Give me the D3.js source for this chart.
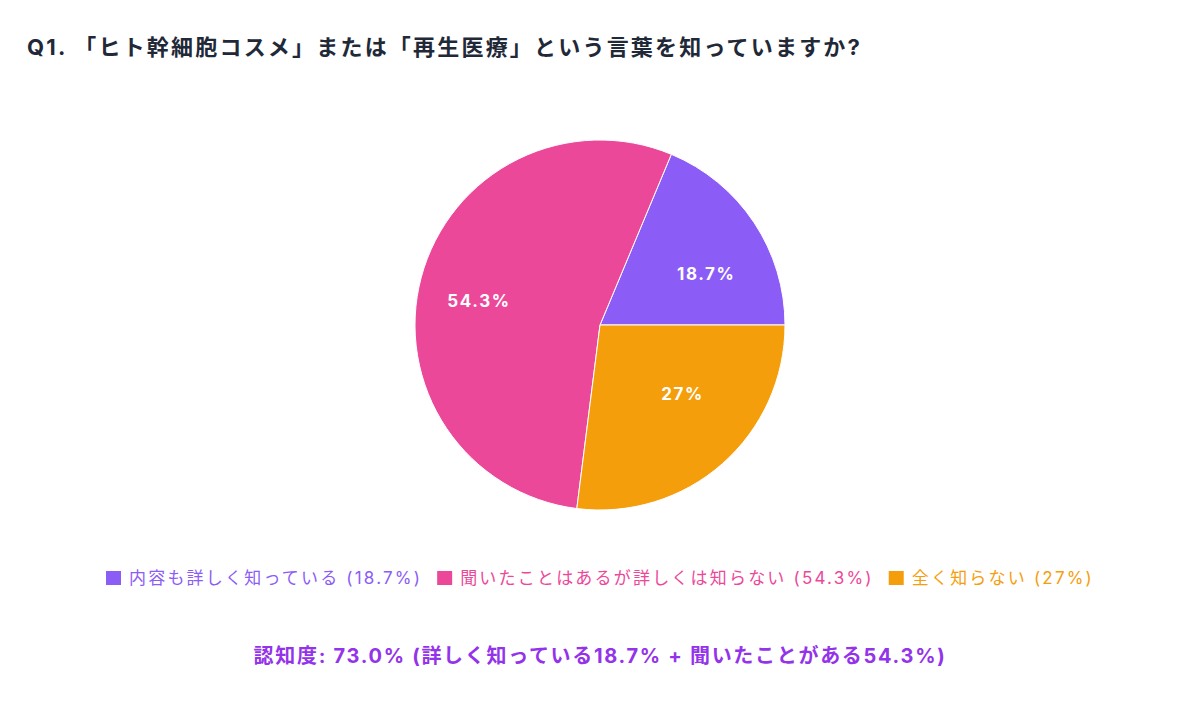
<!DOCTYPE html>
<html><head><meta charset="utf-8">
<script src="https://cdn.jsdelivr.net/npm/d3@7"></script>
<style>
body{margin:0;background:#fff;}
svg{display:block;font-family:Inter,"Noto Sans CJK JP",sans-serif;}
</style></head>
<body><svg id="c" width="1200" height="703"></svg>
<script>
const categories = ["内容も詳しく知っている", "聞いたことはあるが詳しくは知らない", "全く知らない"];
const values = [18.7, 54.3, 27];
const valueLabels = ["18.7%", "54.3%", "27%"];
const colors = ["#8b5cf6", "#ec4899", "#f59e0b"];
const title = "Q1. 「ヒト幹細胞コスメ」または「再生医療」という言葉を知っていますか?";
const footer = "認知度: 73.0% (詳しく知っている18.7% + 聞いたことがある54.3%)";

const svg = d3.select("#c");
const cx = 600, cy = 325, R = 185;

svg.append("text").attr("x", 27).attr("y", 55)
  .attr("font-size", 22).attr("font-weight", 700).attr("fill", "#1f2937")
  .attr("letter-spacing", 2.2)
  .text(title);

// start at 3 o'clock, go counter-clockwise
const pie = d3.pie().sort(null).value(d => d)
  .startAngle(Math.PI / 2).endAngle(Math.PI / 2 - 2 * Math.PI);
const arcs = pie(values);
const arc = d3.arc().innerRadius(0).outerRadius(R);
const g = svg.append("g").attr("transform", `translate(${cx},${cy})`);
g.selectAll("path").data(arcs).join("path")
  .attr("d", arc).attr("fill", (d, i) => colors[i])
  .attr("stroke", "#fff").attr("stroke-width", 1);

const lr = R * 0.5;
g.selectAll("text.lbl").data(arcs).join("text").attr("class", "lbl")
  .each(function(d, i) {
    const mid = (d.startAngle + d.endAngle) / 2;
    const x = lr * Math.sin(mid), y = -lr * Math.cos(mid);
    d3.select(this).attr("x", x).attr("y", y)
      .attr("text-anchor", x > 0 ? "start" : "end")
      .attr("dominant-baseline", "central");
  })
  .attr("fill", "#fff").attr("font-size", 17).attr("font-weight", 700)
  .attr("letter-spacing", 1.6)
  .text((d, i) => valueLabels[i]);

// legend
const lg = svg.append("g");
let items = categories.map((c, i) => ({c, i, t: `${c} (${valueLabels[i]})`}));
const item = lg.selectAll("g").data(items).join("g");
item.append("rect").attr("width", 15).attr("height", 14).attr("y", -7).attr("fill", d => colors[d.i]);
item.append("text").attr("x", 23).attr("dominant-baseline", "central")
  .attr("font-size", 17).attr("letter-spacing", 2.2).attr("fill", d => colors[d.i]).text(d => d.t);
let widths = [];
item.each(function() { widths.push(this.getBBox().width); });
const gap = 15;
const total = d3.sum(widths) + gap * (widths.length - 1);
let x0 = 600 - total / 2;
item.attr("transform", (d, i) => { const x = x0; x0 += widths[i] + gap; return `translate(${x},578)`; });

svg.append("text").attr("x", 600).attr("y", 656).attr("text-anchor", "middle")
  .attr("dominant-baseline", "central")
  .attr("font-size", 20).attr("font-weight", 700).attr("fill", "#9333ea")
  .attr("letter-spacing", 1.7)
  .text(footer);
</script></body></html>
